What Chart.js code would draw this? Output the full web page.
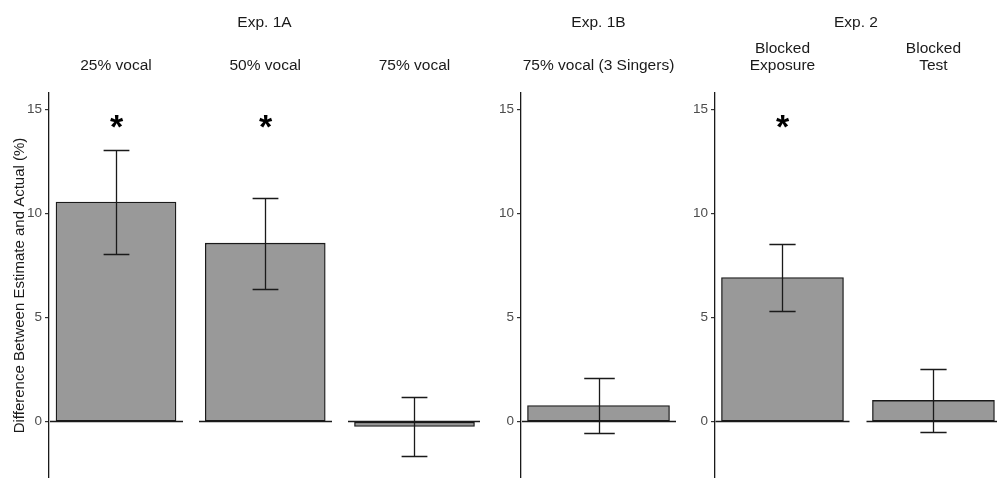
<!DOCTYPE html>
<html>
<head>
<meta charset="utf-8">
<script src="https://cdn.jsdelivr.net/npm/chart.js@4.4.0/dist/chart.umd.min.js"></script>
<style>
  html, body { margin: 0; padding: 0; background: #fff; overflow: hidden; }
  #wrap { position: relative; width: 997px; height: 478px; }
  #wrap canvas { position: absolute; top: 0; }
</style>
</head>
<body>
<div id="wrap">
  <canvas id="exp1a" width="480" height="478" style="left:0px"></canvas>
  <canvas id="exp1b" width="195" height="478" style="left:481px"></canvas>
  <canvas id="exp2" width="322" height="478" style="left:675px"></canvas>
</div>
<script>
// --- Data ---
const yTicks = [0, 5, 10, 15];
const yMin = -2.71;
const yMax = 15.8;
const starLevel = 14.45; // where the significance asterisks sit

const exp1aLabels = ['25% vocal', '50% vocal', '75% vocal'];
const exp1aMeans = [10.56, 8.58, -0.23];
const exp1aErrors = [2.50, 2.19, 1.43];
const exp1aSig = [true, true, false];

const exp1bLabels = ['75% vocal (3 Singers)'];
const exp1bMeans = [0.77];
const exp1bErrors = [1.32];
const exp1bSig = [false];

const exp2Labels = [['Blocked', 'Exposure'], ['Blocked', 'Test']];
const exp2Means = [6.93, 1.02];
const exp2Errors = [1.60, 1.50];
const exp2Sig = [true, false];

const FONT = '"Liberation Sans", Arial, sans-serif';
const INK = '#1a1a1a';
const TOP = 93; // top of the plotting panels

function makeChart(id, cfg) {
  // draws per-panel zero lines, error bars and asterisks
  const marks = {
    id: 'marks_' + id,
    afterDatasetsDraw(chart) {
      const { ctx, scales: { x, y } } = chart;
      const y0 = Math.floor(y.getPixelForValue(0)) + 0.5;
      ctx.save();
      ctx.strokeStyle = INK;
      ctx.lineWidth = 1.3;
      cfg.means.forEach((m, i) => {
        const cx = Math.round(x.getPixelForValue(i + 1)) + 0.5;
        ctx.beginPath();
        ctx.moveTo(cx - cfg.panelHalf, y0);
        ctx.lineTo(cx + cfg.panelHalf, y0);
        ctx.stroke();

        const top = Math.round(y.getPixelForValue(m + cfg.errors[i])) + 0.5;
        const bot = Math.round(y.getPixelForValue(m - cfg.errors[i])) + 0.5;
        const cap = cfg.barPx * 0.215 / 2;
        ctx.beginPath();
        ctx.moveTo(cx, top); ctx.lineTo(cx, bot);
        ctx.moveTo(cx - cap, top); ctx.lineTo(cx + cap, top);
        ctx.moveTo(cx - cap, bot); ctx.lineTo(cx + cap, bot);
        ctx.stroke();

        if (cfg.sig[i]) {
          ctx.font = 'bold 34px ' + FONT;
          ctx.fillStyle = '#000';
          ctx.textAlign = 'center';
          ctx.textBaseline = 'alphabetic';
          const mt = ctx.measureText('*');
          const target = y.getPixelForValue(starLevel);
          const base = target - (mt.actualBoundingBoxDescent - mt.actualBoundingBoxAscent) / 2;
          ctx.fillText('*', cx, base);
        }
      });
      ctx.restore();
    }
  };

  return new Chart(document.getElementById(id), {
    type: 'bar',
    data: {
      datasets: [{
        data: cfg.means.map((m, i) => ({ x: i + 1, y: m })),
        backgroundColor: '#999999',
        borderColor: INK,
        borderWidth: 1.3,
        borderSkipped: false,
        barThickness: cfg.barPx
      }]
    },
    options: {
      responsive: false,
      devicePixelRatio: 1,
      animation: false,
      layout: { padding: 0 },
      plugins: {
        legend: { display: false },
        tooltip: { enabled: false },
        title: {
          display: true,
          text: cfg.title,
          fullSize: false,
          color: INK,
          font: { family: FONT, size: 15.5, weight: 'normal' },
          padding: { top: 13, bottom: 0 }
        }
      },
      scales: {
        x: {
          type: 'linear',
          position: 'top',
          offset: false,
          min: cfg.xMin,
          max: cfg.xMax,
          grid: { display: false, drawTicks: false },
          border: { display: false },
          afterBuildTicks: s => { s.ticks = cfg.labels.map((_, i) => ({ value: i + 1 })); },
          afterFit: s => {
            s.height = TOP - 31.6;
            s.paddingLeft = 0; s.paddingRight = 0;
          },
          ticks: {
            color: INK,
            font: { family: FONT, size: 15.5, lineHeight: 1.1 },
            padding: 18.5,
            maxRotation: 0,
            autoSkip: false,
            callback: v => cfg.labels[v - 1]
          }
        },
        y: {
          type: 'linear',
          min: yMin,
          max: yMax,
          afterBuildTicks: s => { s.ticks = yTicks.map(v => ({ value: v })); },
          afterFit: s => {
            s.width = cfg.yWidth;
            s.paddingTop = 0; s.paddingBottom = 0;
          },
          grid: { display: true, drawOnChartArea: false, drawTicks: true, tickLength: 4, color: '#333', lineWidth: 1.2 },
          border: { display: true, color: INK, width: 1.3 },
          ticks: { color: '#4d4d4d', font: { family: FONT, size: 13.5 }, padding: 3 },
          title: {
            display: !!cfg.yTitle,
            text: cfg.yTitle || '',
            color: INK,
            font: { family: FONT, size: 15 },
            padding: { top: 11, bottom: 0 }
          }
        }
      }
    },
    plugins: [marks]
  });
}

makeChart('exp1a', {
  title: 'Exp. 1A', labels: exp1aLabels, means: exp1aMeans, errors: exp1aErrors, sig: exp1aSig,
  xMin: 0.551, xMax: 3.439, barPx: 120, panelHalf: 66.5, yWidth: 49,
  yTitle: 'Difference Between Estimate and Actual (%)'
});
makeChart('exp1b', {
  title: 'Exp. 1B', labels: exp1bLabels, means: exp1bMeans, errors: exp1bErrors, sig: exp1bSig,
  xMin: 0.5, xMax: 1.5, barPx: 142, panelHalf: 77.5, yWidth: 40
});
makeChart('exp2', {
  title: 'Exp. 2', labels: exp2Labels, means: exp2Means, errors: exp2Errors, sig: exp2Sig,
  xMin: 0.553, xMax: 2.421, barPx: 122, panelHalf: 67, yWidth: 40
});
</script>
</body>
</html>
